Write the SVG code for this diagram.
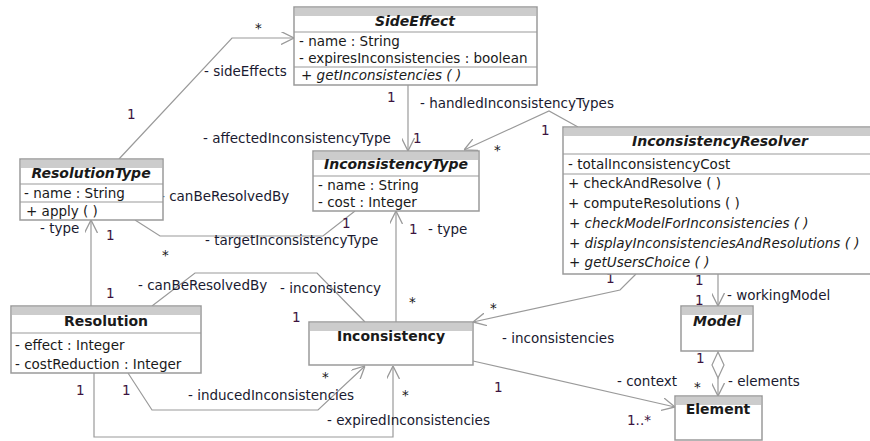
<svg xmlns="http://www.w3.org/2000/svg" width="870" height="441" viewBox="0 0 870 441">
<defs>
<style>
text{font-family:"DejaVu Sans","Liberation Sans",sans-serif;font-size:13.5px;fill:#1a1a1a}
.box{fill:#ffffff;stroke:#9a9a9a;stroke-width:1.5}
.band{fill:#cccccc}
.div{stroke:#9a9a9a;stroke-width:1.2}
.ttl{font-weight:bold;font-style:italic;font-size:14px;text-anchor:middle}
.tb{font-weight:bold;font-size:14px;text-anchor:middle}
.it{font-style:italic}
.m{fill:#3c1440}
.r{fill:#1a1a30}
.c{fill:none;stroke:#9a9a9a;stroke-width:1.2}
</style>
<marker id="arr" viewBox="0 0 13 13" refX="13" refY="6.5" markerWidth="13" markerHeight="13" markerUnits="userSpaceOnUse" orient="auto">
<path d="M0,0 L13,6.5 L0,13" fill="none" stroke="#9a9a9a" stroke-width="1.3"/>
</marker>
</defs>

<g id="connectors">
<path class="c" d="M119,159 L232,38 L294,38" marker-end="url(#arr)"/>
<path class="c" d="M408,85 L408,151" marker-end="url(#arr)"/>
<path class="c" d="M578,127 L549,111 L464,150" marker-end="url(#arr)"/>
<path class="c" d="M91,306 L91,220" marker-end="url(#arr)"/>
<path class="c" d="M135,220 L160,236 L323,236 L355,211"/>
<path class="c" d="M152,306 L195,273 L317,273 L365,322"/>
<path class="c" d="M396,322 L396,211" marker-end="url(#arr)"/>
<path class="c" d="M636,274 L620,290 L473,322" marker-end="url(#arr)"/>
<path class="c" d="M718,274 L718,306" marker-end="url(#arr)"/>
<path class="c" d="M718,378 L718,396" marker-end="url(#arr)"/>
<path d="M718,352 L712,365 L718,378 L724,365 Z" fill="#ffffff" stroke="#9a9a9a" stroke-width="1.2"/>
<path class="c" d="M473,361 L675,407" marker-end="url(#arr)"/>
<path class="c" d="M128,373 L152,410 L318,410 L365,366" marker-end="url(#arr)"/>
<path class="c" d="M94,373 L94,437 L393,437 L393,366" marker-end="url(#arr)"/>

<text x="255" y="33">*</text>
<text class="r" x="204" y="76">- sideEffects</text>
<text class="m" x="127" y="119">1</text>
<text class="r" x="203" y="143">- affectedInconsistencyType</text>
<text class="m" x="387" y="102">1</text>
<text class="m" x="413" y="143">1</text>
<text class="r" x="420" y="108">- handledInconsistencyTypes</text>
<text class="m" x="541" y="135">1</text>
<text x="494" y="155">*</text>
<text class="r" x="160" y="201">- canBeResolvedBy</text>
<text class="r" x="40" y="233">- type</text>
<text class="m" x="106" y="240">1</text>
<text x="162" y="260">*</text>
<text class="m" x="106" y="298">1</text>
<text class="r" x="205" y="245">- targetInconsistencyType</text>
<text class="m" x="342" y="228">1</text>
<text class="r" x="138" y="290">- canBeResolvedBy</text>
<text class="r" x="280" y="293">- inconsistency</text>
<text class="m" x="292" y="322">1</text>
<text x="184" y="318">*</text>
<text class="m" x="409" y="234">1</text>
<text class="r" x="428" y="234">- type</text>
<text x="409" y="307">*</text>
<text x="490" y="313">*</text>
<text class="r" x="502" y="343">- inconsistencies</text>
<text class="m" x="606" y="283">1</text>
<text class="m" x="695" y="285">1</text>
<text class="m" x="695" y="305">1</text>
<text class="r" x="727" y="300">- workingModel</text>
<text class="m" x="696" y="363">1</text>
<text x="694" y="392">*</text>
<text class="r" x="728" y="386">- elements</text>
<text class="r" x="617" y="386">- context</text>
<text class="m" x="627" y="425">1..*</text>
<text class="m" x="494" y="392">1</text>
<text class="m" x="76" y="395">1</text>
<text class="m" x="122" y="395">1</text>
<text class="r" x="188" y="400">- inducedInconsistencies</text>
<text x="322" y="382">*</text>
<text x="402" y="400">*</text>
<text class="r" x="327" y="425">- expiredInconsistencies</text>
</g>

<g id="SideEffect">
<rect class="box" x="294" y="7" width="243" height="78"/>
<rect class="band" x="295" y="8" width="241" height="8"/>
<line class="div" x1="294" y1="32" x2="537" y2="32"/>
<line class="div" x1="294" y1="67" x2="537" y2="67"/>
<text class="ttl" x="415" y="26">SideEffect</text>
<text x="299" y="46">- name : String</text>
<text x="299" y="63">- expiresInconsistencies : boolean</text>
<text class="it" x="301" y="80">+ getInconsistencies ( )</text>
</g>

<g id="ResolutionType">
<rect class="box" x="20" y="159" width="143" height="61"/>
<rect class="band" x="21" y="160" width="141" height="8"/>
<line class="div" x1="20" y1="184" x2="163" y2="184"/>
<line class="div" x1="20" y1="202" x2="163" y2="202"/>
<text class="ttl" x="91" y="178">ResolutionType</text>
<text x="24" y="198">- name : String</text>
<text x="26" y="216">+ apply ( )</text>
</g>

<g id="InconsistencyType">
<rect class="box" x="313" y="151" width="166" height="60"/>
<rect class="band" x="314" y="152" width="164" height="8"/>
<line class="div" x1="313" y1="176" x2="479" y2="176"/>
<text class="ttl" x="396" y="169">InconsistencyType</text>
<text x="318" y="190">- name : String</text>
<text x="318" y="207">- cost : Integer</text>
</g>

<g id="InconsistencyResolver">
<rect class="box" x="563" y="127" width="316" height="147"/>
<rect class="band" x="564" y="128" width="314" height="8"/>
<line class="div" x1="563" y1="154" x2="879" y2="154"/>
<line class="div" x1="563" y1="174" x2="879" y2="174"/>
<text class="ttl" x="720" y="146">InconsistencyResolver</text>
<text x="568" y="169">- totalInconsistencyCost</text>
<text x="568" y="188">+ checkAndResolve ( )</text>
<text x="568" y="208">+ computeResolutions ( )</text>
<text class="it" x="569" y="228">+ checkModelForInconsistencies ( )</text>
<text class="it" x="569" y="248">+ displayInconsistenciesAndResolutions ( )</text>
<text class="it" x="569" y="267">+ getUsersChoice ( )</text>
</g>

<g id="Resolution">
<rect class="box" x="11" y="306" width="190" height="67"/>
<rect class="band" x="12" y="307" width="188" height="8"/>
<line class="div" x1="11" y1="333" x2="201" y2="333"/>
<text class="tb" x="106" y="326">Resolution</text>
<text x="15" y="350">- effect : Integer</text>
<text x="15" y="369">- costReduction : Integer</text>
</g>

<g id="Inconsistency">
<rect class="box" x="309" y="322" width="164" height="43"/>
<rect class="band" x="310" y="323" width="162" height="8"/>
<text class="tb" x="391" y="341">Inconsistency</text>
</g>

<g id="Model">
<rect class="box" x="681" y="306" width="72" height="45"/>
<rect class="band" x="682" y="307" width="70" height="8"/>
<text class="ttl" x="717" y="326">Model</text>
</g>

<g id="Element">
<rect class="box" x="675" y="396" width="87" height="44"/>
<rect class="band" x="676" y="397" width="85" height="8"/>
<text class="tb" x="718" y="414">Element</text>
</g>
</svg>
